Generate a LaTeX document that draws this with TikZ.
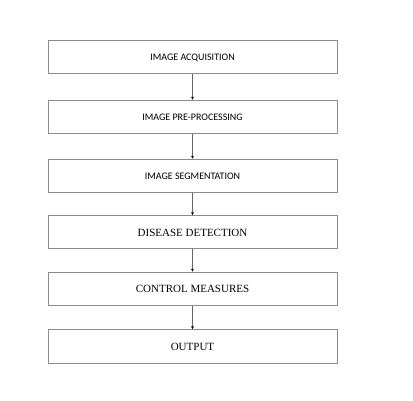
\documentclass[tikz,border=0pt]{standalone}
\usepackage{fontspec}
\setmainfont{Liberation Serif}
\newfontfamily\calib{Carlito}
\usepackage{tikz}
\usetikzlibrary{calc,arrows.meta}
\definecolor{boxgray}{HTML}{8C8C8C}
\newcommand{\boxwidth}{289pt}
\newcommand{\boxheight}{33pt}

\begin{document}
\begin{tikzpicture}[x=1pt,y=-1pt,
    stage/.style={draw=boxgray, line width=1pt, minimum width=\boxwidth, minimum height=\boxheight, inner sep=0pt},
    link/.style={draw=black!60, line width=0.6pt, -{Latex[length=3pt,width=3pt,black]}}]
      \useasboundingbox (0,0) rectangle (413,401);
      % stages
        \node (acq) at (192.5,57.5) [stage] {\calib\fontsize{10}{12}\selectfont IMAGE ACQUISITION};
        \node (pre) at (192.5,117) [stage] {\calib\fontsize{10}{12}\selectfont IMAGE PRE-PROCESSING};
        \node (seg) at (192.5,176) [stage] {\calib\fontsize{10}{12}\selectfont IMAGE SEGMENTATION};
        \node (det) at (192.5,232.5) [stage] {\fontsize{11}{12}\selectfont DISEASE DETECTION};
        \node (ctl) at (192.5,289) [stage] {\fontsize{11}{12}\selectfont CONTROL MEASURES};
        \node (out) at (192.5,346.5) [stage] {\fontsize{11}{12}\selectfont OUTPUT};

        \draw[link] (acq) to (pre);
        \draw[link] (pre) to (seg);
        \draw[link] (seg) to (det);
        \draw[link] (det) to (ctl);
        \draw[link] (ctl) to (out);
    \end{tikzpicture}
\end{document}
